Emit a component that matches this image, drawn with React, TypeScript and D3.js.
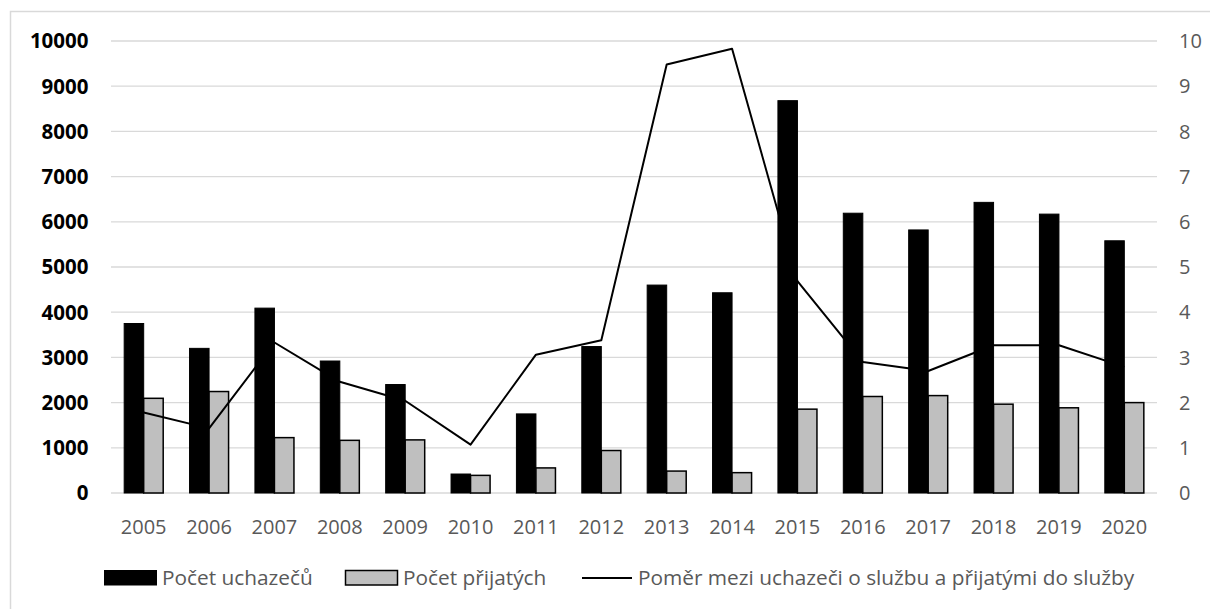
import React from "react";
import * as d3 from "d3";

const years = ["2005","2006","2007","2008","2009","2010","2011","2012","2013","2014","2015","2016","2017","2018","2019","2020"];
const applicants = [3750, 3200, 4090, 2920, 2400, 420, 1750, 3240, 4600, 4430, 8680, 6190, 5820, 6430, 6170, 5580];
const accepted = [2095, 2245, 1225, 1165, 1175, 390, 555, 940, 485, 450, 1855, 2135, 2155, 1965, 1885, 2000];
const ratio = [1.78, 1.43, 3.33, 2.46, 2.04, 1.07, 3.06, 3.38, 9.48, 9.83, 4.69, 2.9, 2.7, 3.27, 3.27, 2.79];
const leftTicks = [0, 1000, 2000, 3000, 4000, 5000, 6000, 7000, 8000, 9000, 10000];
const rightTicks = [0, 1, 2, 3, 4, 5, 6, 7, 8, 9, 10];
const seriesNames = ["Počet uchazečů", "Počet přijatých", "Poměr mezi uchazeči o službu a přijatými do služby"];

const W = 1210, H = 609;
const FONT = "'Open Sans', sans-serif";

export default function App() {
  const x = d3.scaleBand<string>().domain(years).range([111, 1157]).paddingInner(0.403).paddingOuter(0.2015);
  const xi = d3.scaleBand<string>().domain(["a", "b"]).range([0, x.bandwidth()]);
  const yL = d3.scaleLinear().domain([0, 10000]).range([493, 41]);
  const yR = d3.scaleLinear().domain([0, 10]).range([493, 41]);
  const line = d3.line<number>()
    .x((_, i) => (x(years[i]) as number) + x.bandwidth() / 2)
    .y((d) => yR(d));

  return (
    <svg width={W} height={H} style={{ position: "absolute", left: 0, top: 0, background: "#fff" }}>
      <rect x={10.5} y={11.5} width={1300} height={700} fill="#fff" stroke="#d9d9d9" strokeWidth={1.5} />
      {leftTicks.map((t) => (
        <line key={"g" + t} x1={111} x2={1157} y1={yL(t)} y2={yL(t)} stroke="#d9d9d9" strokeWidth={1.3} />
      ))}
      {leftTicks.map((t) => (
        <text key={"l" + t} x={88.5} y={yL(t)} dy="0.36em" textAnchor="end" fontFamily={FONT} fontWeight="bold" fontSize={20.5} fill="#000">
          {t}
        </text>
      ))}
      {rightTicks.map((t) => (
        <text key={"r" + t} x={1179} y={yR(t)} dy="0.36em" textAnchor="start" fontFamily={FONT} fontSize={20} fill="#595959">
          {t}
        </text>
      ))}
      {years.map((yr, i) => (
        <g key={yr}>
          <rect x={(x(yr) as number) + (xi("a") as number)} y={yL(applicants[i])} width={xi.bandwidth()} height={yL(0) - yL(applicants[i])} fill="#000" stroke="#000" strokeWidth={1} />
          <rect x={(x(yr) as number) + (xi("b") as number)} y={yL(accepted[i])} width={xi.bandwidth()} height={yL(0) - yL(accepted[i])} fill="#bfbfbf" stroke="#000" strokeWidth={1.5} />
          <text x={(x(yr) as number) + x.bandwidth() / 2} y={534} textAnchor="middle" fontFamily={FONT} fontSize={20} fill="#595959">
            {yr}
          </text>
        </g>
      ))}
      <path d={line(ratio) || ""} fill="none" stroke="#000" strokeWidth={2} strokeLinejoin="round" />
      {/* legend */}
      <rect x={104.5} y={570.5} width={52} height={14.5} fill="#000" stroke="#000" strokeWidth={1} />
      <text x={162} y={585} fontFamily={FONT} fontSize={20.8} fill="#595959">{seriesNames[0]}</text>
      <rect x={345.5} y={570.5} width={52} height={14.5} fill="#bfbfbf" stroke="#000" strokeWidth={1.5} />
      <text x={403} y={585} fontFamily={FONT} fontSize={20.8} fill="#595959">{seriesNames[1]}</text>
      <line x1={582} x2={632} y1={578} y2={578} stroke="#000" strokeWidth={2} />
      <text x={638} y={585} fontFamily={FONT} fontSize={20.8} fill="#595959">{seriesNames[2]}</text>
    </svg>
  );
}
